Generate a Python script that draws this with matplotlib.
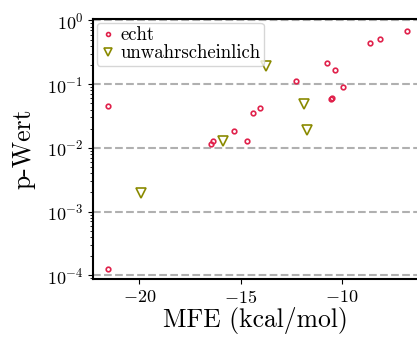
import numpy as np
import matplotlib
matplotlib.use('Agg')
import matplotlib.pyplot as plt

plt.rcParams['font.family'] = 'serif'
plt.rcParams['font.serif'] = ['cmr10']
plt.rcParams['mathtext.fontset'] = 'cm'
plt.rcParams['axes.formatter.use_mathtext'] = True

# echte Sequenzen
echt_mfe = [-21.53, -21.53, -16.47, -16.34, -15.34, -14.69, -14.37, -14.05,
            -12.24, -10.71, -10.53, -10.46, -10.33, -9.92, -8.60, -8.09, -6.79]
echt_p = [0.046, 0.000127, 0.0116, 0.0127, 0.0186, 0.013, 0.035, 0.043,
          0.1135, 0.215, 0.059, 0.061, 0.165, 0.089, 0.443, 0.513, 0.69]

# unwahrscheinliche Sequenzen
unw_mfe = [-19.92, -15.85, -13.76, -11.88, -11.70]
unw_p = [0.00194, 0.0128, 0.193, 0.049, 0.0191]

fig = plt.figure(figsize=(4.17, 3.38), dpi=100)
ax = fig.add_axes([0.223, 0.1746, 0.777, 0.7692])

for yy in [1e-4, 1e-3, 1e-2, 1e-1, 1e0]:
    ax.axhline(yy, color='#b0b0b0', linestyle='--', linewidth=1.5, zorder=0)

ax.plot(echt_mfe, echt_p, 'o', linestyle='none', markerfacecolor='none',
        markeredgecolor='#e0204a', markeredgewidth=1.2, markersize=3.3, label='echt')
ax.plot(unw_mfe, unw_p, 'v', linestyle='none', markerfacecolor='none',
        markeredgecolor='#8a8a00', markeredgewidth=1.2, markersize=7, label='unwahrscheinlich')

ax.set_yscale('log')
ax.set_xlim(-22.29, -6.28)
ax.set_ylim(10 ** -4.058, 10 ** 0.0235)
ax.set_xticks([-20, -15, -10])

for s in ['left', 'top', 'bottom']:
    ax.spines[s].set_linewidth(1.5)
ax.spines['right'].set_visible(False)
ax.tick_params(labelsize=13)

ax.set_xlabel('MFE (kcal/mol)', fontsize=18.5, labelpad=1)
ax.set_ylabel('p-Wert', fontsize=18.5, labelpad=8)
ax.legend(loc='upper left', fontsize=13.5, handletextpad=0.3, borderpad=0.2,
          labelspacing=0.0, borderaxespad=0.2, handlelength=0.75, markerscale=0.85)

fig.savefig('out.png', dpi=100)
